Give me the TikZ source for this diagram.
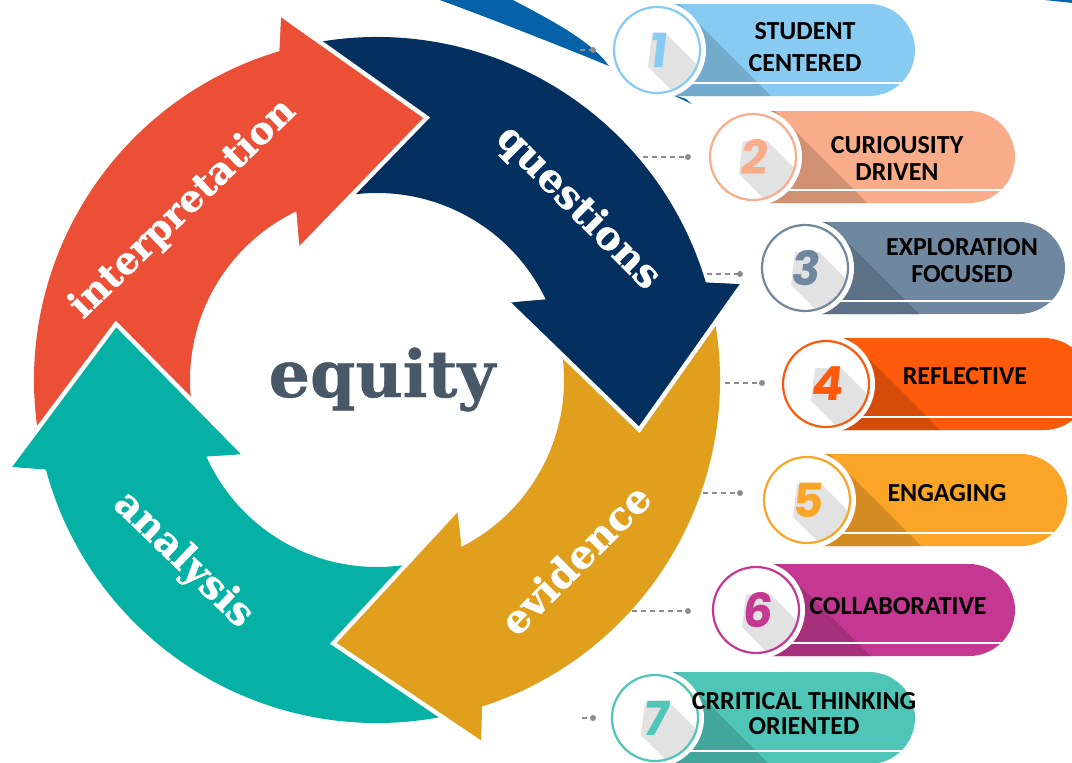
\documentclass[tikz,border=0pt]{standalone}
\usepackage{fontspec}
\newfontfamily\badgefont{Carlito}
\newfontfamily\slabfont{DejaVu Serif}[BoldFeatures={FakeBold=0.7}]
\newfontfamily\numfont[FakeSlant=0.12]{Poppins}
\usetikzlibrary{calc}
\definecolor{cRed}{HTML}{EB5036}
\definecolor{cNavy}{HTML}{03305F}
\definecolor{cGold}{HTML}{E09F1C}
\definecolor{cTeal}{HTML}{05B0A4}
\definecolor{cEquity}{HTML}{485866}
\definecolor{bOne}{HTML}{88CBF2}
\definecolor{bTwo}{HTML}{F8AC89}
\definecolor{bThree}{HTML}{6F879F}
\definecolor{bFour}{HTML}{FE5A0B}
\definecolor{bFive}{HTML}{FBA528}
\definecolor{bSix}{HTML}{C53892}
\definecolor{bSeven}{HTML}{4FC5B8}
\definecolor{cSwoosh}{HTML}{0562A8}
\definecolor{cShadow}{HTML}{E2E2E2}
\definecolor{cConn}{HTML}{8C8C8C}
\tikzset{
 lbl/.style={font=\slabfont\bfseries\fontsize{39.5}{39.5}\selectfont, text=white, inner sep=0},
 btxt/.style={font=\badgefont\bfseries\fontsize{26}{26}\selectfont, text=black, inner sep=0, anchor=center},
 numtxt/.style={font=\numfont\bfseries\fontsize{47}{47}\selectfont, inner sep=0, anchor=center},
 conn/.style={draw=cConn, line width=1.6, dash pattern=on 5pt off 4pt},
 conndot/.style={fill=cConn},
 gapline/.style={draw=white, line width=9, line join=miter, miter limit=20},
}
\newcommand{\ArrBody}[3]{%
 \pgfmathsetmacro{\angA}{#3-20}\pgfmathsetmacro{\angB}{#2-26.5}\pgfmathsetmacro{\angC}{#2-24.8}%
 \pgfmathsetmacro{\angD}{#2-40}\pgfmathsetmacro{\angE}{#2-35.5}\pgfmathsetmacro{\angF}{#3-18}%
 \fill[#1] (\angA:343) arc[start angle=\angA, end angle=\angB, radius=343] -- (\angC:375) -- (#2:266) -- (\angD:155) -- (\angE:187) arc[start angle=\angE, end angle=\angF, radius=187] -- (#3:266) -- cycle;}
\newcommand{\ArrHead}[2]{%
 \pgfmathsetmacro{\angB}{#2-26.5}\pgfmathsetmacro{\angC}{#2-24.8}%
 \pgfmathsetmacro{\angD}{#2-40}\pgfmathsetmacro{\angE}{#2-35.5}%
 \draw[gapline] (\angC:375) -- (#2:266) -- (\angD:155);
 \fill[#1] (\angC:375) -- (#2:266) -- (\angD:155) -- (\angE:187) -- (\angB:343) -- cycle;}
% #1 name, #2 cx, #3 cy, #4 right end, #5 colour, #6 digit, #7 half width of digit
\newcommand{\Badge}[7]{%
 \begin{scope}
 \clip[rounded corners=46] (#2-46,#3-46) rectangle (#4,#3+46);
 \fill[#5] (#2-50,#3-50) rectangle (#4+2,#3+50);
 \fill[#5!84!black] (#2+14,#3-54) -- (#2+134,#3+66) -- (#2-50,#3+66) -- (#2-50,#3-54) -- cycle;
 \draw[white, line width=2] (#2,#3+33) -- (#4,#3+33);
 \end{scope}
 \fill[white] (#2,#3) circle (49);
 \begin{scope}
 \clip (#2,#3) circle (42);
 \fill[cShadow] (#2-#7+2,#3-16) -- (#2+#7+2,#3-16) -- (#2+#7+62,#3+44) -- (#2+#7+58,#3+77) -- (#2-#7+58,#3+77) -- (#2-#7-2,#3+17) -- cycle;
 \end{scope}
 \draw[#5, line width=2.2] (#2,#3) circle (43);
 \node[numtxt, text=#5] (#1) at (#2,#3) {#6};}
\begin{document}
\begin{tikzpicture}[x=1pt,y=-1pt]
\useasboundingbox (0,0) rectangle (1072,763);
\fill[white] (0,0) rectangle (1072,763);
% background swoosh
\fill[cSwoosh] (437,-1) -- (511,-1) .. controls (555,22) and (592,42) .. (609,66) .. controls (570,50) and (500,22) .. (437,-1) -- cycle;
\fill[cSwoosh] (668,93) -- (692,104) -- (686,99) -- cycle;
\fill[cSwoosh] (1035,-1) -- (1073,-1) -- (1073,3) -- cycle;
% connectors
\coordinate (k1a) at (580,50); \coordinate (k1b) at (593,50);
\coordinate (k2a) at (643,157); \coordinate (k2b) at (688,157);
\coordinate (k3a) at (707,274); \coordinate (k3b) at (740,274);
\coordinate (k4a) at (725,383); \coordinate (k4b) at (762,383);
\coordinate (k5a) at (703,493); \coordinate (k5b) at (740,493);
\coordinate (k6a) at (632,611); \coordinate (k6b) at (688,611);
\coordinate (k7a) at (582,718); \coordinate (k7b) at (593,718);
\foreach \i in {1,...,7} {\draw[conn] (k\i a) -- (k\i b); \fill[conndot] (k\i b) circle (3);}
% cycle of arrows
\begin{scope}[shift={(377,380)}]
\ArrBody{cRed}{280}{191.4}
\ArrBody{cNavy}{370}{280}
\ArrBody{cGold}{458.7}{370}
\ArrBody{cTeal}{551.4}{458.7}
\ArrHead{cRed}{280}
\ArrHead{cNavy}{370}
\ArrHead{cGold}{458.7}
\ArrHead{cTeal}{551.4}
\end{scope}
\node[lbl, rotate=44, font=\slabfont\bfseries\fontsize{37.5}{37.5}\selectfont] (lInterp) at (183,209) {interpretation};
\node[lbl, rotate=-45] (lQuest) at (578,208) {questions};
\node[lbl, rotate=45] (lEvid) at (575,559) {evidence};
\node[lbl, rotate=-44] (lAnal) at (183,560) {analysis};
\node[font=\slabfont\bfseries\fontsize{65}{65}\selectfont, text=cEquity, anchor=base, inner sep=0] (eq) at (382,397) {equity};
% badges
\Badge{b1}{657}{50}{915}{bOne}{1}{7}
\Badge{b2}{753}{157}{1015}{bTwo}{2}{12}
\Badge{b3}{805}{268}{1065}{bThree}{3}{12}
\Badge{b4}{826}{384}{1090}{bFour}{4}{13}
\Badge{b5}{807}{500}{1067}{bFive}{5}{12}
\Badge{b6}{756}{610}{1015}{bSix}{6}{12}
\Badge{b7}{655}{718}{915}{bSeven}{7}{12}
\node[btxt] (t1a) at (805,31) {STUDENT};
\node[btxt] (t1b) at (805,63) {CENTERED};
\node[btxt] (t2a) at (897,145) {CURIOUSITY};
\node[btxt] (t2b) at (897,172) {DRIVEN};
\node[btxt] (t3a) at (962,247) {EXPLORATION};
\node[btxt] (t3b) at (962,274) {FOCUSED};
\node[btxt] (t4a) at (965,376) {REFLECTIVE};
\node[btxt] (t5a) at (947,493) {ENGAGING};
\node[btxt] (t6a) at (898,606) {COLLABORATIVE};
\node[btxt] (t7a) at (804,701) {CRRITICAL THINKING};
\node[btxt] (t7b) at (804,726) {ORIENTED};
\end{tikzpicture}
\end{document}
